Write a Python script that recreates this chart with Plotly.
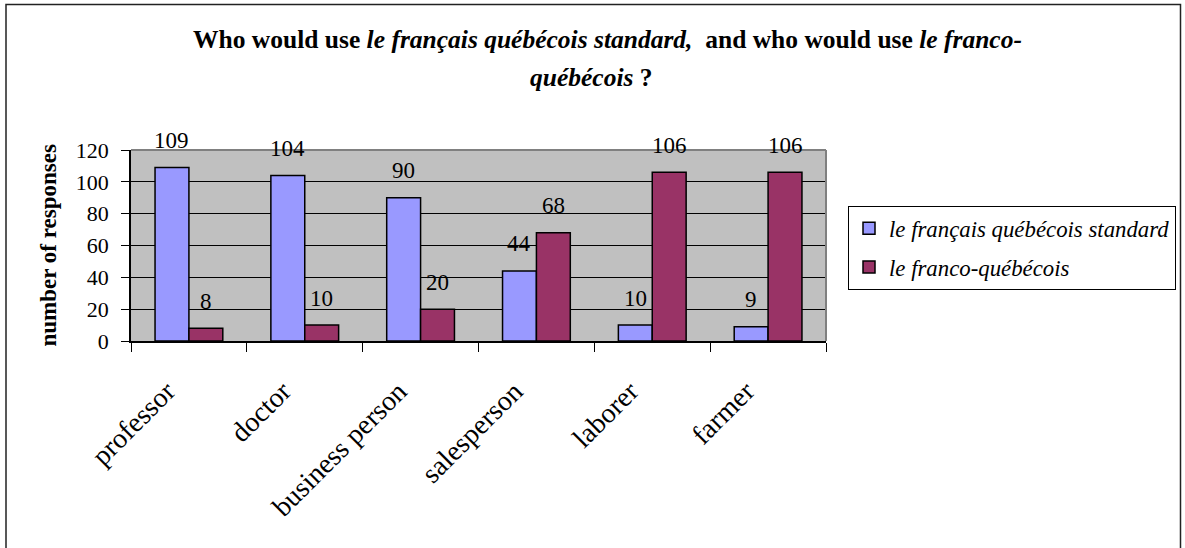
import plotly.graph_objects as go

# Survey responses per occupation
categories = ["professor", "doctor", "business person", "salesperson", "laborer", "farmer"]
standard_values = [109, 104, 90, 44, 10, 9]
franco_values = [8, 10, 20, 68, 106, 106]
series_names = ["le français québécois standard", "le franco-québécois"]
y_ticks = [0, 20, 40, 60, 80, 100, 120]

BLUE = "#9999FF"
MAROON = "#993366"
PLOT_BG = "#C0C0C0"
FONT = "Liberation Serif"

W, H = 1185, 548
ML, MR, MT, MB = 131, 359, 150, 207
PW, PH = W - ML - MR, H - MT - MB
BARGAP = 0.415


def paper_x(px):
    return (px - ML) / PW


def paper_y(py):
    return (H - MB - py) / PH


fig = go.Figure()
for name, vals, color in [(series_names[0], standard_values, BLUE),
                          (series_names[1], franco_values, MAROON)]:
    fig.add_trace(go.Bar(
        x=categories, y=vals, name="<i>" + name + "</i>", legendgroup=name,
        marker=dict(color=color, line=dict(color="black", width=1.5)),
    ))

# value labels centred over each bar
bar_px = PW / len(categories) * (1 - BARGAP) / 2
annotations = []
for vals, sign in [(standard_values, -1), (franco_values, 1)]:
    for c, v in zip(categories, vals):
        annotations.append(dict(
            x=c, y=v, xref="x", yref="y", text=str(v), showarrow=False,
            xshift=sign * bar_px / 2, yshift=27, yanchor="middle",
            font=dict(family=FONT, size=23, color="black"),
        ))

# two-line chart title
annotations.append(dict(
    x=paper_x(607), y=paper_y(39), xref="paper", yref="paper", showarrow=False,
    xanchor="center", yanchor="middle",
    text="<b>Who would use <i>le français québécois standard,</i>  and who would use <i>le franco-</i></b>",
    font=dict(family=FONT, size=25.5, color="black"),
))
annotations.append(dict(
    x=paper_x(591), y=paper_y(77), xref="paper", yref="paper", showarrow=False,
    xanchor="center", yanchor="middle",
    text="<b><i>québécois</i> ?</b>",
    font=dict(family=FONT, size=25.5, color="black"),
))
# y-axis title
annotations.append(dict(
    x=paper_x(48), y=0.5, xref="paper", yref="paper", showarrow=False,
    xanchor="center", yanchor="middle", textangle=-90,
    text="<b>number of responses</b>",
    font=dict(family=FONT, size=23, color="black"),
))

shapes = [
    # plot area frame (top and right edges)
    dict(type="line", xref="paper", yref="paper", x0=0, x1=1, y0=1, y1=1,
         line=dict(color="#808080", width=2), layer="above"),
    dict(type="line", xref="paper", yref="paper", x0=1, x1=1, y0=0, y1=1,
         line=dict(color="#808080", width=2), layer="above"),
    # chart border
    dict(type="rect", xref="paper", yref="paper",
         x0=paper_x(6), x1=paper_x(1180.5), y0=paper_y(560), y1=paper_y(4.5),
         line=dict(color="#222222", width=1.5), fillcolor="rgba(0,0,0,0)"),
]

fig.update_layout(
    width=W, height=H,
    margin=dict(l=ML, r=MR, t=MT, b=MB, autoexpand=False),
    paper_bgcolor="white", plot_bgcolor=PLOT_BG,
    barmode="group", bargap=BARGAP, bargroupgap=0,
    font=dict(family=FONT, size=22, color="black"),
    showlegend=True,
    legend=dict(
        x=paper_x(848), y=paper_y(206), xanchor="left", yanchor="top",
        bordercolor="black", borderwidth=1, bgcolor="white",
        font=dict(family=FONT, size=22.8, color="black"),
        tracegroupgap=6, traceorder="grouped", itemwidth=30,
    ),
    annotations=annotations,
    shapes=shapes,
)
fig.update_xaxes(
    type="category", tickson="boundaries", ticks="outside", ticklen=9,
    tickcolor="black", tickwidth=1, showline=True, linecolor="black", linewidth=1.5,
    showgrid=False, tickangle=-45, tickfont=dict(family=FONT, size=28),
    ticklabelstandoff=21, ticklabelshift=-22,
)
fig.update_yaxes(
    range=[0, 120], tickvals=y_ticks, ticks="outside", ticklen=8,
    tickcolor="black", showline=True, linecolor="black", linewidth=1.5,
    showgrid=True, gridcolor="black", gridwidth=1, zeroline=False,
    tickfont=dict(family=FONT, size=22), ticklabelstandoff=8,
)

fig.write_html("out.html")
